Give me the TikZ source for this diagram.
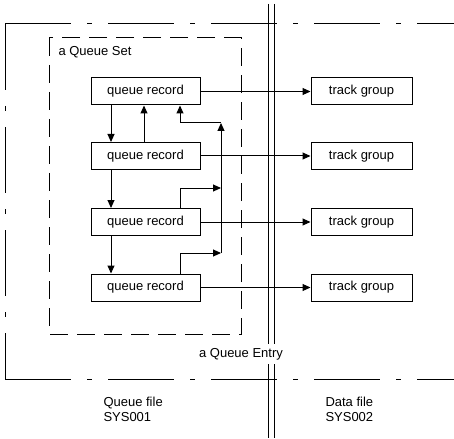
\documentclass[tikz,border=0pt]{standalone}
\usepackage{fontspec}
\setmainfont{Liberation Sans}
\usetikzlibrary{arrows.meta}
\begin{document}
\begin{tikzpicture}[x=1pt,y=-1pt,line width=1pt,
  txt/.style={font=\fontsize{13}{15}\selectfont},
  box/.style={draw,txt,minimum height=27pt,inner sep=0pt},
  qrec/.style={box,minimum width=109pt},
  tgrp/.style={box,minimum width=101pt},
  arr/.style={-{Triangle[length=8pt,width=7pt]}},
  frameline/.style={dash pattern=on 66pt off 16pt on 5pt off 16pt},
  setline/.style={dash pattern=on 18pt off 9pt},
  lbl/.style={txt,align=left,inner sep=0pt}]
\useasboundingbox (0,0) rectangle (454,438);
\fill[white] (0,0) rectangle (454,438);
% outer dash-dot frame
\coordinate (ftl) at (5,24);
\coordinate (fbl) at (5,379);
\coordinate (ftr) at (454,24);
\coordinate (fbr) at (454,379);
\draw[frameline] (ftl) -- (ftr);
\draw[frameline] (ftl) -- (fbl);
\draw[frameline] (fbl) -- (fbr);
% double vertical separator
\coordinate (s1t) at (268,4);
\coordinate (s1b) at (268,438);
\coordinate (s2t) at (274,4);
\coordinate (s2b) at (274,438);
\draw (s1t) -- (s1b);
\draw (s2t) -- (s2b);
% inner dashed queue set box
\coordinate (qstl) at (49,38);
\coordinate (qsbr) at (241,334);
\draw[setline] (qstl) rectangle (qsbr);
\node[lbl,anchor=west] (qs) at (58,52) {a Queue Set};
% queue records and track groups
\node[qrec] (qr1) at (145.5,91.5) {queue record};
\node[qrec] (qr2) at (145.5,156) {queue record};
\node[qrec] (qr3) at (145.5,222) {queue record};
\node[qrec] (qr4) at (145.5,287.5) {queue record};
\node[tgrp] (tg1) at (361.5,91.5) {track group};
\node[tgrp] (tg2) at (361.5,156) {track group};
\node[tgrp] (tg3) at (361.5,222) {track group};
\node[tgrp] (tg4) at (361.5,287.5) {track group};
\foreach \i in {1,2,3,4}{
  \draw[arr] (qr\i.east) -- (tg\i.west);
}
% chaining arrows
\coordinate (xd) at (111,0);
\coordinate (xu) at (144,0);
\coordinate (xr) at (180,0);
\draw[arr] (qr1.south -| xd) -- (qr2.north -| xd);
\draw[arr] (qr2.north -| xu) -- (qr1.south -| xu);
\draw[arr] (qr2.south -| xd) -- (qr3.north -| xd);
\draw[arr] (qr3.south -| xd) -- (qr4.north -| xd);
% return line
\coordinate (rtop) at (221,123);
\coordinate (rmid) at (221,188);
\coordinate (rbot) at (221,253);
\draw[arr] (rbot) -- (rtop);
\draw[arr] (rtop) -- (rtop -| xr) -- (qr1.south -| xr);
\draw[arr] (qr3.north -| xr) |- (rmid);
\draw[arr] (qr4.north -| xr) |- (rbot);
% labels
\node[lbl,fill=white,inner sep=4pt] (qe) at (241,354) {a Queue Entry};
\node[lbl,anchor=north west] (qf) at (103,397) {Queue file\\SYS001};
\node[lbl,anchor=north west] (df) at (325,397) {Data file\\SYS002};
\end{tikzpicture}
\end{document}
